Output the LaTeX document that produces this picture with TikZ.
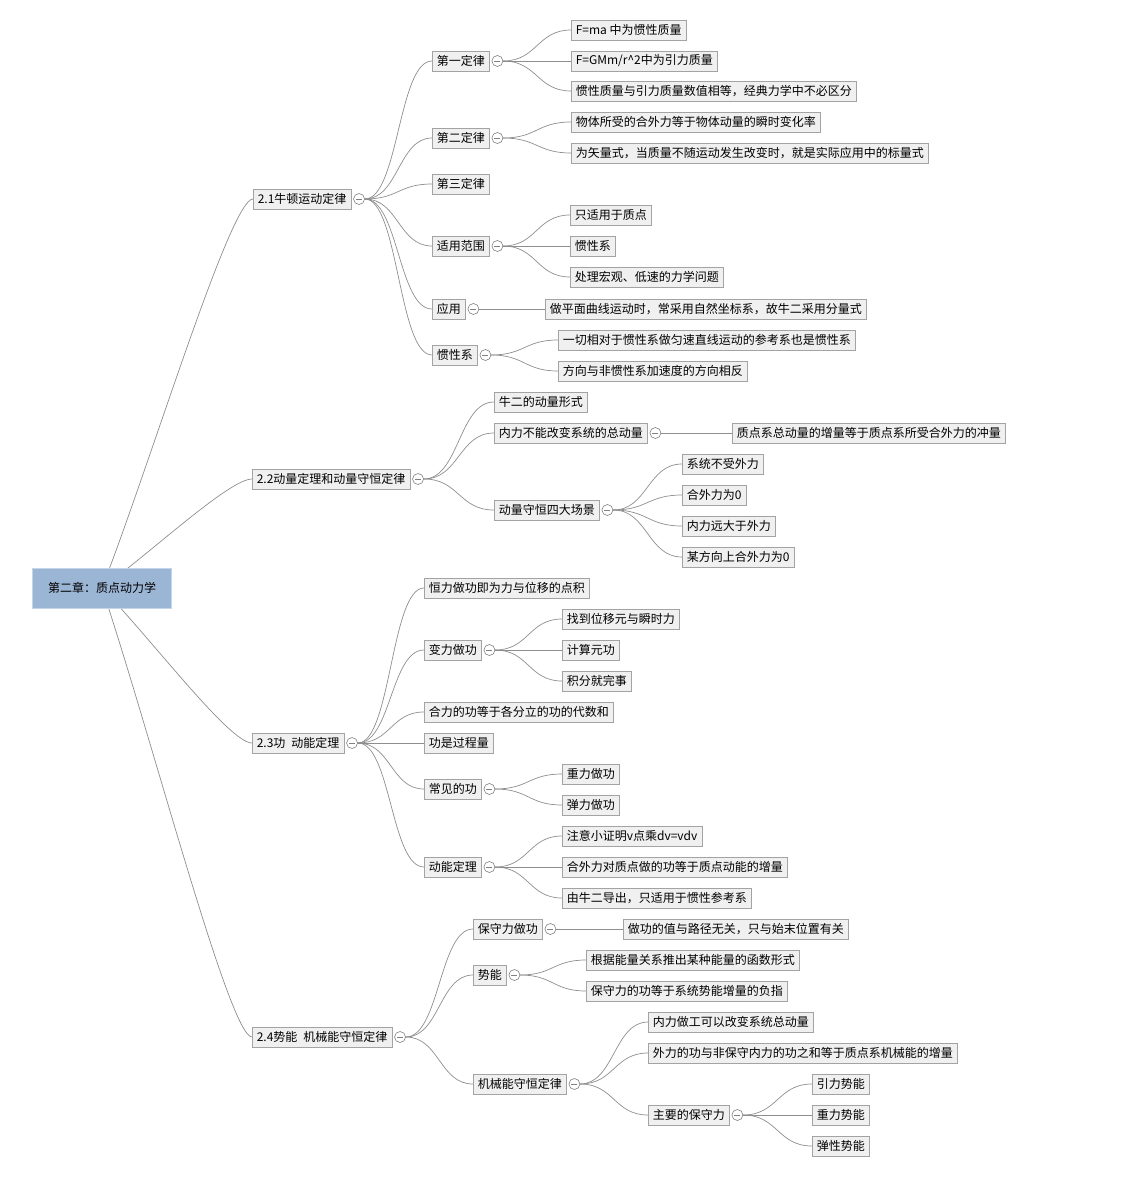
\documentclass[tikz,border=0pt]{standalone}
\usepackage{fontspec}
\setmainfont{Noto Sans CJK SC}
\usetikzlibrary{positioning, calc, backgrounds}

\definecolor{boxfill}{HTML}{F0F0F0}
\definecolor{boxline}{HTML}{A3A3A3}
\definecolor{linkgray}{HTML}{8E8E8E}
\definecolor{rootfill}{HTML}{9BB5D4}
\definecolor{rootline}{HTML}{C4D5EA}

\begin{document}
\begin{tikzpicture}[
        x=1pt, y=-1pt,
        font=\fontsize{12}{14}\selectfont,
        root/.style  = {rectangle, draw=rootline, fill=rootfill, line width=1pt,
                        minimum width=139pt, minimum height=40pt, text centered},
        topic/.style = {rectangle, draw=boxline, fill=boxfill, anchor=west,
                        inner xsep=4.5pt, inner ysep=0pt, minimum height=20pt, line width=0.6pt},
        fold/.style  = {circle, draw=gray, fill=white, minimum size=11pt, inner sep=0pt,
                        line width=0.6pt,
                        path picture={\draw[gray, line width=0.6pt]
                          ([xshift=-3pt]path picture bounding box.center) --
                          ([xshift=3pt]path picture bounding box.center);}},
        link/.style  = {draw, linkgray, line width=0.7pt},
        sbend/.style = {to path={let \p1=(\tikztostart), \p2=(\tikztotarget),
                        \n1={0.5*(\x2-\x1)} in
                        .. controls ($(\p1)+(\n1,0pt)$) and ($(\p2)-(\n1,0pt)$) .. (\p2)}},
        rbend/.style = {to path={let \p1=(\tikztostart), \p2=(\tikztotarget),
                        \n1={0.15*(\x2-\x1)} in
                        .. controls ($(\p1)!0.33!(\p2)$) and ($(\p2)-(\n1,0pt)$) .. (\p2)}}
    ]
        \useasboundingbox (0,0) rectangle (1124,1177);

        % 中心
        \node [root] (root) at (102,588) {第二章：质点动力学};

        % 2.1
        \node [topic] (newton) at (253,199) {2.1牛顿运动定律};
        \node [topic] (law1)   at (432,61)  {第一定律};
        \node [topic] (law1a)  at (571,30)  {F=ma 中为惯性质量};
        \node [topic] (law1b)  at (571,61)  {F=GMm/r\textasciicircum2中为引力质量};
        \node [topic] (law1c)  at (571,91)  {惯性质量与引力质量数值相等，经典力学中不必区分};
        \node [topic] (law2)   at (432,138) {第二定律};
        \node [topic] (law2a)  at (571,122) {物体所受的合外力等于物体动量的瞬时变化率};
        \node [topic] (law2b)  at (571,153) {为矢量式，当质量不随运动发生改变时，就是实际应用中的标量式};
        \node [topic] (law3)   at (432,184) {第三定律};
        \node [topic] (range)  at (432,246) {适用范围};
        \node [topic] (rangeA) at (570,215) {只适用于质点};
        \node [topic] (rangeB) at (570,246) {惯性系};
        \node [topic] (rangeC) at (570,277) {处理宏观、低速的力学问题};
        \node [topic] (apply)  at (432,309) {应用};
        \node [topic] (applyA) at (545,309) {做平面曲线运动时，常采用自然坐标系，故牛二采用分量式};
        \node [topic] (frame)  at (432,355) {惯性系};
        \node [topic] (frameA) at (558,340) {一切相对于惯性系做匀速直线运动的参考系也是惯性系};
        \node [topic] (frameB) at (558,371) {方向与非惯性系加速度的方向相反};

        % 2.2
        \node [topic] (momentum) at (252,479) {2.2动量定理和动量守恒定律};
        \node [topic] (mform)    at (494,402) {牛二的动量形式};
        \node [topic] (inner)    at (494,433) {内力不能改变系统的总动量};
        \node [topic] (innerA)   at (732,433) {质点系总动量的增量等于质点系所受合外力的冲量};
        \node [topic] (cons)     at (494,510) {动量守恒四大场景};
        \node [topic] (consA)    at (682,464) {系统不受外力};
        \node [topic] (consB)    at (682,495) {合外力为0};
        \node [topic] (consC)    at (682,526) {内力远大于外力};
        \node [topic] (consD)    at (682,557) {某方向上合外力为0};

        % 2.3
        \node [topic] (work)     at (252,743) {2.3功\hspace{0.5em}动能定理};
        \node [topic] (wconst)   at (424,588) {恒力做功即为力与位移的点积};
        \node [topic] (wvar)     at (424,650) {变力做功};
        \node [topic] (wvarA)    at (562,619) {找到位移元与瞬时力};
        \node [topic] (wvarB)    at (562,650) {计算元功};
        \node [topic] (wvarC)    at (562,681) {积分就完事};
        \node [topic] (wsum)     at (424,712) {合力的功等于各分立的功的代数和};
        \node [topic] (wproc)    at (424,743) {功是过程量};
        \node [topic] (wcommon)  at (424,789) {常见的功};
        \node [topic] (wcommonA) at (562,774) {重力做功};
        \node [topic] (wcommonB) at (562,805) {弹力做功};
        \node [topic] (ke)       at (424,867) {动能定理};
        \node [topic] (keA)      at (562,836) {注意小证明v点乘dv=vdv};
        \node [topic] (keB)      at (562,867) {合外力对质点做的功等于质点动能的增量};
        \node [topic] (keC)      at (562,898) {由牛二导出，只适用于惯性参考系};

        % 2.4
        \node [topic] (energy) at (252,1037) {2.4势能\hspace{0.5em}机械能守恒定律};
        \node [topic] (cwork)  at (473,929)  {保守力做功};
        \node [topic] (cworkA) at (623,929)  {做功的值与路径无关，只与始末位置有关};
        \node [topic] (pot)    at (473,975)  {势能};
        \node [topic] (potA)   at (586,960)  {根据能量关系推出某种能量的函数形式};
        \node [topic] (potB)   at (586,991)  {保守力的功等于系统势能增量的负指};
        \node [topic] (mech)   at (473,1084) {机械能守恒定律};
        \node [topic] (mechA)  at (648,1022) {内力做工可以改变系统总动量};
        \node [topic] (mechB)  at (648,1053) {外力的功与非保守内力的功之和等于质点系机械能的增量};
        \node [topic] (mainf)  at (648,1115) {主要的保守力};
        \node [topic] (mainfA) at (812,1084) {引力势能};
        \node [topic] (mainfB) at (812,1115) {重力势能};
        \node [topic] (mainfC) at (812,1146) {弹性势能};

        % 折りたたみ
        \foreach \n in {newton, law1, law2, range, apply, frame,
                        momentum, inner, cons, work, wvar, wcommon, ke,
                        energy, cwork, pot, mech, mainf}
            \node [fold, right=2pt of \n] (\n F) {};

        % 連線
        \begin{pgfonlayer}{background}
            \foreach \c in {newton, momentum, work, energy}
                \path [link] (root.center) to[rbend] (\c.west);
            \foreach \c in {law1, law2, law3, range, apply, frame}
                \path [link] (newtonF.east) to[sbend] (\c.west);
            \foreach \c in {law1a, law1b, law1c}
                \path [link] (law1F.east) to[sbend] (\c.west);
            \foreach \c in {law2a, law2b}
                \path [link] (law2F.east) to[sbend] (\c.west);
            \foreach \c in {rangeA, rangeB, rangeC}
                \path [link] (rangeF.east) to[sbend] (\c.west);
            \path [link] (applyF.east) -- (applyA.west);
            \foreach \c in {frameA, frameB}
                \path [link] (frameF.east) to[sbend] (\c.west);
            \foreach \c in {mform, inner, cons}
                \path [link] (momentumF.east) to[sbend] (\c.west);
            \path [link] (innerF.east) -- (innerA.west);
            \foreach \c in {consA, consB, consC, consD}
                \path [link] (consF.east) to[sbend] (\c.west);
            \foreach \c in {wconst, wvar, wsum, wproc, wcommon, ke}
                \path [link] (workF.east) to[sbend] (\c.west);
            \foreach \c in {wvarA, wvarB, wvarC}
                \path [link] (wvarF.east) to[sbend] (\c.west);
            \foreach \c in {wcommonA, wcommonB}
                \path [link] (wcommonF.east) to[sbend] (\c.west);
            \foreach \c in {keA, keB, keC}
                \path [link] (keF.east) to[sbend] (\c.west);
            \foreach \c in {cwork, pot, mech}
                \path [link] (energyF.east) to[sbend] (\c.west);
            \path [link] (cworkF.east) -- (cworkA.west);
            \foreach \c in {potA, potB}
                \path [link] (potF.east) to[sbend] (\c.west);
            \foreach \c in {mechA, mechB, mainf}
                \path [link] (mechF.east) to[sbend] (\c.west);
            \foreach \c in {mainfA, mainfB, mainfC}
                \path [link] (mainfF.east) to[sbend] (\c.west);
        \end{pgfonlayer}
    \end{tikzpicture}
\end{document}
